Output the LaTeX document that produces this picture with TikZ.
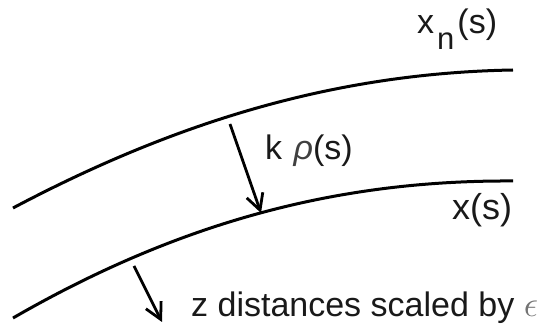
\documentclass[tikz,border=0pt]{standalone}
\usepackage{fontspec}
\setmainfont{Liberation Sans}
\usetikzlibrary{arrows.meta}
\begin{document}
\begin{tikzpicture}[x=1pt,y=-1pt,
  curve/.style={line width=3pt},
  pointer/.style={line width=2.8pt,-{Straight Barb[length=16pt,width=17pt,line width=2.8pt]}},
  lbl/.style={inner sep=0pt,anchor=base west,font=\fontsize{34}{38}\selectfont,text=black!90}]
\useasboundingbox (0,0) rectangle (549,328);
% curves
\draw[curve] (13,208) .. controls (183,118) and (342,73) .. (513,70);
\draw[curve] (13,318) .. controls (183,220) and (342,180) .. (513,181);
% arrows
\coordinate (a1s) at (230,124);
\coordinate (a1e) at (261,213);
\coordinate (a2s) at (134,266);
\coordinate (a2e) at (162,322);
\draw[pointer] (a1s) -- (a1e);
\draw[pointer] (a2s) -- (a2e);
% labels
\node[lbl] (xn) at (417,34) {x\kern3pt\raisebox{-16pt}{\fontsize{31}{34}\selectfont n}\kern3pt(s)};
\node[lbl,font=\fontsize{36}{40}\selectfont] (xs) at (452,220) {x(s)};
\node[lbl] (krho) at (265,160) {k\ \kern2pt{\itshape\color{black!75}ρ}(s)};
\node[lbl] (zd) at (191,317) {z distances scaled by {\color{black!55}\scalebox{1.45}{$\epsilon$}}};
\end{tikzpicture}
\end{document}
